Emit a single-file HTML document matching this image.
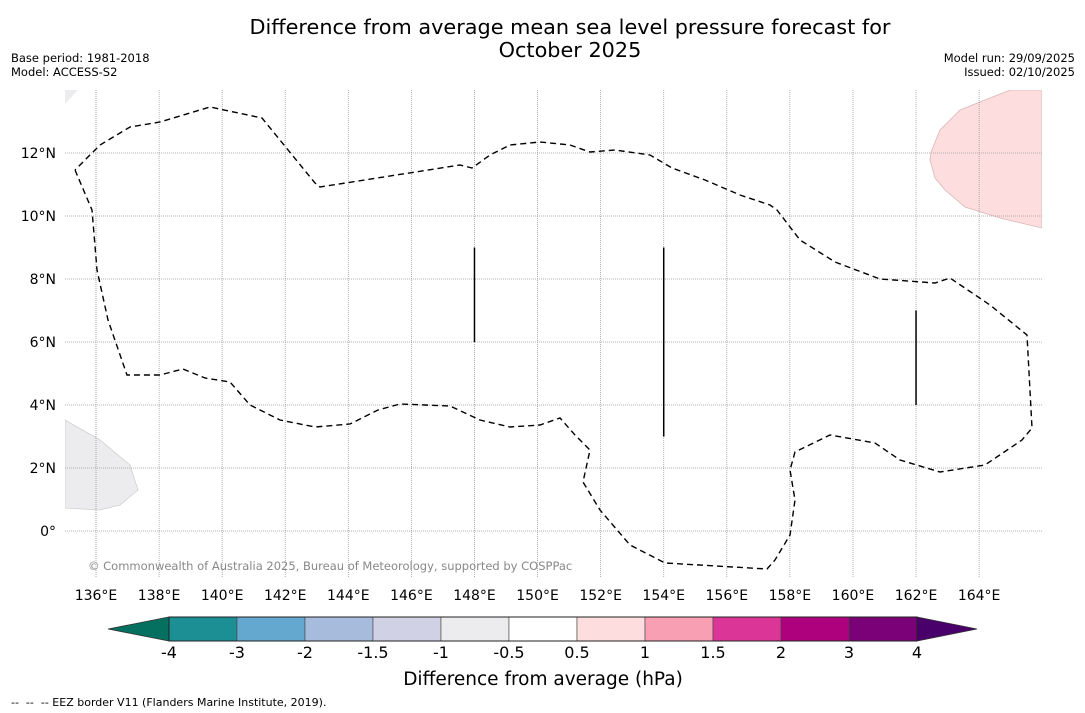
<!DOCTYPE html>
<html><head><meta charset="utf-8"><style>
body{margin:0;background:#fff;}
svg{display:block;font-family:"DejaVu Sans","Liberation Sans",sans-serif;}
</style></head><body>
<svg id="chart" width="1085" height="713" viewBox="0 0 1085 713">
<rect width="1085" height="713" fill="#fff"/>
<text x="570" y="34" font-size="20.8" text-anchor="middle">Difference from average mean sea level pressure forecast for</text>
<text x="570" y="57" font-size="20.8" text-anchor="middle">October 2025</text>
<text x="11" y="62" font-size="11.5">Base period: 1981-2018</text>
<text x="11" y="76" font-size="11.5">Model: ACCESS-S2</text>
<text x="1075" y="62" font-size="11.5" text-anchor="end">Model run: 29/09/2025</text>
<text x="1075" y="76" font-size="11.5" text-anchor="end">Issued: 02/10/2025</text>
<g id="map"></g>
<g id="cbar"></g>
<text x="543" y="685" font-size="18.5" text-anchor="middle">Difference from average (hPa)</text>
<text x="11" y="706" font-size="11" style="white-space:pre">--  --  -- EEZ border V11 (Flanders Marine Institute, 2019).</text>
</svg>
<script>
const lonTicks=[136,138,140,142,144,146,148,150,152,154,156,158,160,162,164];
const latTicks=[0,2,4,6,8,10,12];
const eezX=[75,92,97,108,127,160,183,205,230,250,280,315,350,378,400,450,480,510,540,560,575,590,583,600,630,665,767,775,790,795,790,795,830,875,900,940,985,1022,1032,1027,990,950,935,880,835,800,777,770,740,705,672,650,615,590,570,540,510,490,472,460,320,315,262,210,160,130,100,75];
const eezY=[170,210,270,320,375,375,369,378,382,405,420,427,424,410,404,406,420,427,425,418,435,450,482,510,545,563,569,560,535,500,470,452,435,443,460,472,465,440,428,335,305,278,283,279,262,240,210,205,195,180,168,155,150,152,145,142,145,155,168,165,187,183,118,107,122,127,145,170];
const segLon=[148,154,162];
const segLat0=[6,3,4];
const segLat1=[9,9,7];
const cbLabels=["-4","-3","-2","-1.5","-1","-0.5","0.5","1","1.5","2","3","4"];
const cbColors=["#1c8f95","#65a8cf","#a7bcdc","#d1d1e6","#ececee","#ffffff","#fddddd","#f99fb3","#dc3598","#ae017e","#7a0177"];
const NS="http://www.w3.org/2000/svg";
const X0=65,X1=1042,Y0=90,Y1=578;
const lonX=l=>96+(l-136)*31.54;
const latY=l=>531-l*31.5;
const pxLon=x=>136+(x-96)/31.54, pxLat=y=>(531-y)/31.5;
function el(t,a,p){const e=document.createElementNS(NS,t);for(const k in a)e.setAttribute(k,a[k]);p.appendChild(e);return e;}
const map=document.getElementById('map');
const clip=el('clipPath',{id:'cp'},map);el('rect',{x:X0,y:Y0,width:X1-X0,height:Y1-Y0},clip);
const g=el('g',{'clip-path':'url(#cp)'},map);
const pink=el('polygon',{points:"1010,90 960,110 940,130 931,152 930,160 935,178 945,190 965,207 1000,218 1042,228 1042,90",fill:"#fddddd",stroke:"#d8b8b8","stroke-width":"0.8"},g);


const grey=el('polygon',{points:"65,420 100,440 130,465 138,490 120,505 100,510 65,508",fill:"#ececee",stroke:"#d0d0d0","stroke-width":"0.8"},g);


const grey2=el('polygon',{points:"65,90 78,90 65,104",fill:"#ececee"},g);


lonTicks.forEach(l=>{const x=lonX(l);
 const ln=el('line',{x1:x,x2:x,y1:Y0,y2:Y1,stroke:"#999","stroke-width":"0.8","stroke-dasharray":"1,1"},g);
 
 
 const t=el('text',{x:x,y:600,'font-size':14,'text-anchor':'middle'},map);t.textContent=l+"°E";
 
 
});
latTicks.forEach(l=>{const y=latY(l);
 const ln=el('line',{x1:X0,x2:X1,y1:y,y2:y,stroke:"#999","stroke-width":"0.8","stroke-dasharray":"1,1"},g);
 
 
 const t=el('text',{x:56,y:y+5,'font-size':14,'text-anchor':'end'},map);t.textContent=l===0?"0°":l+"°N";
 
 
});
const eezLon=eezX.map(pxLon), eezLat=eezY.map(pxLat);
const pts=eezLon.map((l,i)=>lonX(l).toFixed(1)+","+latY(eezLat[i]).toFixed(1)).join(" ");
const eez=el('polyline',{points:pts,fill:"none",stroke:"#000","stroke-width":"1.4","stroke-dasharray":"6,4"},g);


segLon.forEach((l,i)=>{
 const s=el('line',{x1:lonX(l),x2:lonX(l),y1:latY(segLat0[i]),y2:latY(segLat1[i]),stroke:"#000","stroke-width":"1.5"},g);
 
 
});
const cp=el('text',{x:88,y:570,'font-size':11.5,fill:'#888'},map);
cp.textContent="© Commonwealth of Australia 2025, Bureau of Meteorology, supported by COSPPac";


const cb=document.getElementById('cbar');
const bx0=169,bw=68,by=617,bh=24;
const lt=el('polygon',{points:`108,629 ${bx0},${by} ${bx0},${by+bh}`,fill:"#05705f",stroke:"#333","stroke-width":"0.8"},cb);


const endX=bx0+bw*cbColors.length;
const rt=el('polygon',{points:`${endX},${by} 977,629 ${endX},${by+bh}`,fill:"#49006a",stroke:"#333","stroke-width":"0.8"},cb);


cbColors.forEach((c,i)=>{
 const r=el('rect',{x:bx0+i*bw,y:by,width:bw,height:bh,fill:c,stroke:"#444","stroke-width":"0.6"},cb);
 
 
});
el('rect',{x:bx0,y:by,width:endX-bx0,height:bh,fill:"none",stroke:"#222","stroke-width":"1"},cb);
cbLabels.forEach((s,i)=>{
 const t=el('text',{x:bx0+i*bw,y:658,'font-size':16,'text-anchor':'middle'},cb);t.textContent=s;
 
 
});
</script>
</body></html>
